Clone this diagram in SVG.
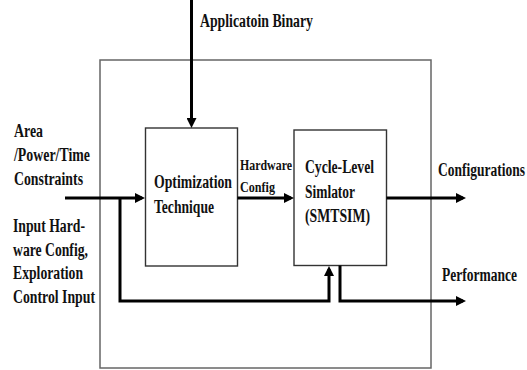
<svg xmlns="http://www.w3.org/2000/svg" width="527" height="370" viewBox="0 0 527 370">
<style>
.box{fill:#fff;stroke:#333;stroke-width:1.4}
.outer{fill:none;stroke:#666;stroke-width:1.5}
.t{font-family:"Liberation Serif","Times New Roman",serif;font-weight:bold;font-size:18.5px;fill:#111}
.s{font-size:14.5px}
.c{fill:none;stroke:#000;stroke-width:3}
</style>
<defs>
<marker id="ah" markerUnits="userSpaceOnUse" markerWidth="10" markerHeight="10" refX="7" refY="5" orient="auto">
<path d="M0,0 L10,5 L0,10 Z" fill="#000"/>
</marker>
</defs>
<rect width="527" height="370" fill="#fff"/>
<g id="system">
<rect class="outer" x="100" y="60" width="331" height="308"/>
</g>
<g id="optimization">
<rect class="box" x="145.5" y="128" width="92" height="138"/>
<text class="t" x="154" y="188" textLength="78" lengthAdjust="spacingAndGlyphs">Optimization</text>
<text class="t" x="154" y="213" textLength="60" lengthAdjust="spacingAndGlyphs">Technique</text>
</g>
<g id="simulator">
<rect class="box" x="294" y="130" width="92.5" height="135.5"/>
<text class="t" x="305" y="173" textLength="69" lengthAdjust="spacingAndGlyphs">Cycle-Level</text>
<text class="t" x="305" y="198" textLength="50" lengthAdjust="spacingAndGlyphs">Simlator</text>
<text class="t" x="305" y="222" textLength="65" lengthAdjust="spacingAndGlyphs">(SMTSIM)</text>
</g>
<g id="connectors">
<path class="c" d="M191.5,0 V125" marker-end="url(#ah)"/>
<path class="c" d="M65,198 H142" marker-end="url(#ah)"/>
<path class="c" d="M120,198 V301 H329 V269" marker-end="url(#ah)"/>
<path class="c" d="M237.5,198 H291" marker-end="url(#ah)"/>
<path class="c" d="M386.5,198 H463" marker-end="url(#ah)"/>
<path class="c" d="M340,265.5 V301 H463" marker-end="url(#ah)"/>
</g>
<g id="labels">
<text class="t" x="200" y="27" textLength="113" lengthAdjust="spacingAndGlyphs">Applicatoin Binary</text>
<text class="t" x="14" y="137" textLength="29" lengthAdjust="spacingAndGlyphs">Area</text>
<text class="t" x="14" y="161" textLength="76" lengthAdjust="spacingAndGlyphs">/Power/Time</text>
<text class="t" x="14" y="185" textLength="69" lengthAdjust="spacingAndGlyphs">Constraints</text>
<text class="t" x="13" y="232" textLength="72" lengthAdjust="spacingAndGlyphs">Input Hard-</text>
<text class="t" x="13" y="256" textLength="75" lengthAdjust="spacingAndGlyphs">ware Config,</text>
<text class="t" x="13" y="279" textLength="70" lengthAdjust="spacingAndGlyphs">Exploration</text>
<text class="t" x="13" y="303" textLength="82" lengthAdjust="spacingAndGlyphs">Control Input</text>
<text class="t s" x="240" y="170" textLength="52" lengthAdjust="spacingAndGlyphs">Hardware</text>
<text class="t s" x="240" y="192" textLength="35" lengthAdjust="spacingAndGlyphs">Config</text>
<text class="t" x="438" y="176" textLength="87" lengthAdjust="spacingAndGlyphs">Configurations</text>
<text class="t" x="442" y="281" textLength="75" lengthAdjust="spacingAndGlyphs">Performance</text>
</g>
</svg>
